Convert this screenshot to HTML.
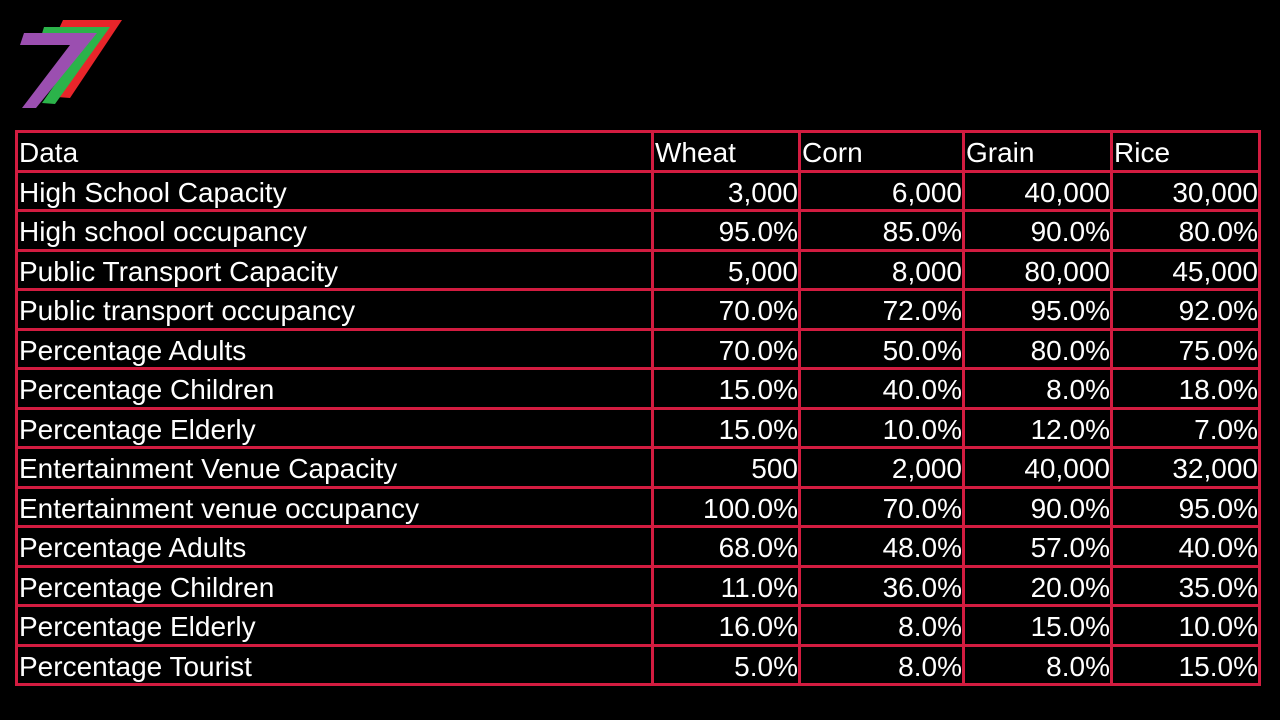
<!DOCTYPE html>
<html><head><meta charset="utf-8"><style>
html,body{margin:0;padding:0;background:#000;width:1280px;height:720px;overflow:hidden}
#logo{position:absolute;left:0;top:0}
table{position:absolute;left:15px;top:130px;border-collapse:collapse;table-layout:fixed;width:1243px;height:556px}
td{border:3px solid #d21c40;color:#fff;font-family:"Liberation Sans",sans-serif;font-size:28px;padding:4px 0 0 1px;white-space:nowrap;overflow:hidden;line-height:30px}
td.n{text-align:right;padding-right:0}
</style></head><body>
<svg id="logo" width="140" height="120">
<polygon points="63,20 122,20 70,98 57,97 101,33 57,33" fill="#e8252a"/>
<polygon points="44,27 110,27 55,104 42,103 86,40 40,40" fill="#2bb34a"/>
<polygon points="24,33 97,33 36,108 22,108 70,45 20,45" fill="#9b4fb0"/>
</svg>
<table>
<colgroup><col style="width:636px"><col style="width:147px"><col style="width:164px"><col style="width:148px"><col style="width:148px"></colgroup>
<tr><td>Data</td><td>Wheat</td><td>Corn</td><td>Grain</td><td>Rice</td></tr>
<tr><td>High School Capacity</td><td class="n">3,000</td><td class="n">6,000</td><td class="n">40,000</td><td class="n">30,000</td></tr>
<tr><td>High school occupancy</td><td class="n">95.0%</td><td class="n">85.0%</td><td class="n">90.0%</td><td class="n">80.0%</td></tr>
<tr><td>Public Transport Capacity</td><td class="n">5,000</td><td class="n">8,000</td><td class="n">80,000</td><td class="n">45,000</td></tr>
<tr><td>Public transport occupancy</td><td class="n">70.0%</td><td class="n">72.0%</td><td class="n">95.0%</td><td class="n">92.0%</td></tr>
<tr><td>Percentage Adults</td><td class="n">70.0%</td><td class="n">50.0%</td><td class="n">80.0%</td><td class="n">75.0%</td></tr>
<tr><td>Percentage Children</td><td class="n">15.0%</td><td class="n">40.0%</td><td class="n">8.0%</td><td class="n">18.0%</td></tr>
<tr><td>Percentage Elderly</td><td class="n">15.0%</td><td class="n">10.0%</td><td class="n">12.0%</td><td class="n">7.0%</td></tr>
<tr><td>Entertainment Venue Capacity</td><td class="n">500</td><td class="n">2,000</td><td class="n">40,000</td><td class="n">32,000</td></tr>
<tr><td>Entertainment venue occupancy</td><td class="n">100.0%</td><td class="n">70.0%</td><td class="n">90.0%</td><td class="n">95.0%</td></tr>
<tr><td>Percentage Adults</td><td class="n">68.0%</td><td class="n">48.0%</td><td class="n">57.0%</td><td class="n">40.0%</td></tr>
<tr><td>Percentage Children</td><td class="n">11.0%</td><td class="n">36.0%</td><td class="n">20.0%</td><td class="n">35.0%</td></tr>
<tr><td>Percentage Elderly</td><td class="n">16.0%</td><td class="n">8.0%</td><td class="n">15.0%</td><td class="n">10.0%</td></tr>
<tr><td>Percentage Tourist</td><td class="n">5.0%</td><td class="n">8.0%</td><td class="n">8.0%</td><td class="n">15.0%</td></tr>
</table>
</body></html>
